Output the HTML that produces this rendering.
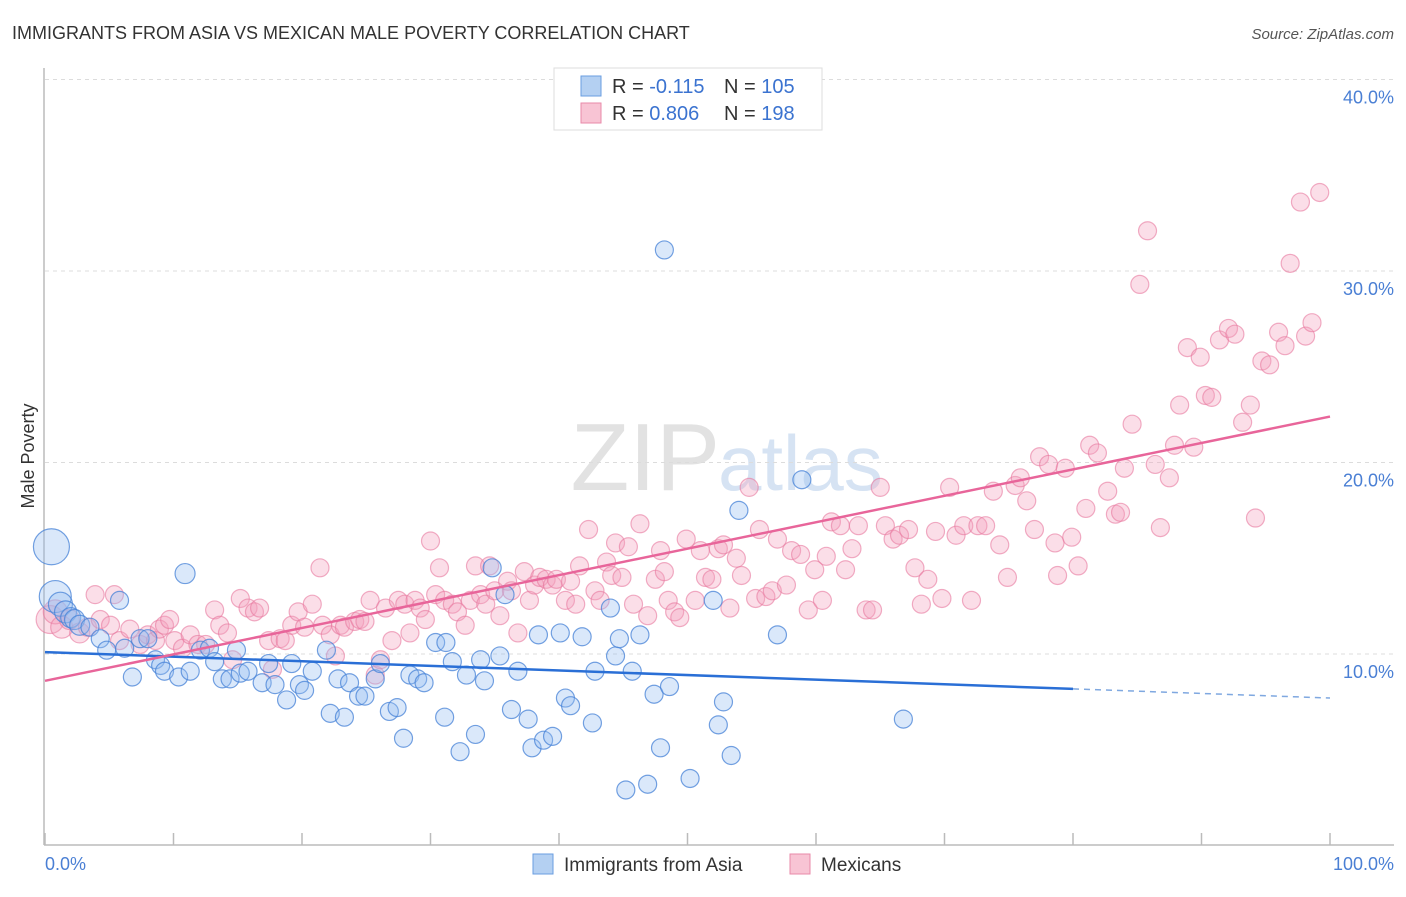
<!DOCTYPE html>
<html><head><meta charset="utf-8"><style>
body{margin:0;background:#fff;font-family:"Liberation Sans",sans-serif;}
svg text{font-family:"Liberation Sans",sans-serif;}
</style></head><body>
<svg id="chart" width="1406" height="892" viewBox="0 0 1406 892" xmlns="http://www.w3.org/2000/svg">
<text x="12" y="39" font-size="18" fill="#333">IMMIGRANTS FROM ASIA VS MEXICAN MALE POVERTY CORRELATION CHART</text>
<text x="1394" y="39" font-size="15" fill="#555" font-style="italic" text-anchor="end">Source: ZipAtlas.com</text>
<text x="720" y="490" font-size="96" fill="#e2e2e2" text-anchor="end" font-family="Liberation Serif">ZIP</text>
<text x="718" y="490" font-size="78" fill="#d6e3f3">atlas</text>
<g id="grid"></g>
<line x1="44" y1="68" x2="44" y2="845" stroke="#bbb" stroke-width="1.5"/>
<line x1="44" y1="845" x2="1394" y2="845" stroke="#bbb" stroke-width="1.5"/>
<g id="ticks"></g>
<g id="pink"></g>
<g id="blue"></g>
<g id="lines"></g>
<text transform="translate(34,456) rotate(-90)" font-size="18" fill="#333" text-anchor="middle">Male Poverty</text>
<text x="45" y="870" font-size="18" fill="#4a7fd4">0.0%</text>
<text x="1394" y="870" font-size="18" fill="#4a7fd4" text-anchor="end">100.0%</text>
<g>
<rect x="554" y="68" width="268" height="62" fill="#fff" stroke="#ddd"/>
<rect x="581" y="76" width="20" height="20" fill="#b4d0f2" stroke="#6a9ee0"/>
<rect x="581" y="103" width="20" height="20" fill="#f8c4d4" stroke="#e88aa9"/>
<text x="612" y="93" font-size="20" fill="#333">R = <tspan fill="#3b73d0">-0.115</tspan></text>
<text x="724" y="93" font-size="20" fill="#333">N = <tspan fill="#3b73d0">105</tspan></text>
<text x="612" y="120" font-size="20" fill="#333">R = <tspan fill="#3b73d0">0.806</tspan></text>
<text x="724" y="120" font-size="20" fill="#333">N = <tspan fill="#3b73d0">198</tspan></text>
</g>
<g>
<rect x="533" y="854" width="20" height="20" fill="#b4d0f2" stroke="#6a9ee0"/>
<text x="564" y="871" font-size="19" fill="#333">Immigrants from Asia</text>
<rect x="790" y="854" width="20" height="20" fill="#f8c4d4" stroke="#e88aa9"/>
<text x="821" y="871" font-size="19" fill="#333">Mexicans</text>
</g>
</svg>
<script>
const yTicks=[10,20,30,40];
const yTickLabels=["10.0%","20.0%","30.0%","40.0%"];
const xTicks=[0,10,20,30,40,50,60,70,80,90,100];
const blueX=[0.5,0.8,1.2,1.6,2.0,2.3,2.7,3.5,4.3,4.8,5.8,6.2,6.8,7.4,8.0,8.6,9.0,9.3,10.4,10.9,11.3,12.1,12.8,13.2,13.8,14.4,14.9,15.2,15.8,16.9,17.4,17.9,18.8,19.2,19.8,20.2,20.8,21.9,22.2,22.8,23.3,23.7,24.4,24.9,25.7,26.1,26.8,27.4,27.9,28.4,29.0,29.5,30.4,31.1,31.2,31.7,32.3,32.8,33.5,33.9,34.2,34.8,35.4,35.8,36.3,36.8,37.6,37.9,38.4,38.8,39.5,40.1,40.5,40.9,41.8,42.6,42.8,44.0,44.4,44.7,45.2,45.7,46.3,46.9,47.4,47.9,48.2,48.6,50.2,52.0,52.4,52.8,53.4,54.0,57.0,58.9,66.8];
const blueY=[15.6,13.0,12.6,12.2,11.9,11.8,11.5,11.4,10.8,10.2,12.8,10.3,8.8,10.8,10.8,9.7,9.4,9.1,8.8,14.2,9.1,10.2,10.3,9.6,8.7,8.7,10.2,9.0,9.1,8.5,9.5,8.4,7.6,9.5,8.4,8.1,9.1,10.2,6.9,8.7,6.7,8.5,7.8,7.8,8.7,9.5,7.0,7.2,5.6,8.9,8.7,8.5,10.6,6.7,10.6,9.6,4.9,8.9,5.8,9.7,8.6,14.5,9.9,13.1,7.1,9.1,6.6,5.1,11.0,5.5,5.7,11.1,7.7,7.3,10.9,6.4,9.1,12.4,9.9,10.8,2.9,9.1,11.0,3.2,7.9,5.1,31.1,8.3,3.5,12.8,6.3,7.5,4.7,17.5,11.0,19.1,6.6];
const blueSize=[18,16,12,11,10,10,10,9,9,9,9,9,9,9,9,9,9,9,9,10];
const pinkX=[0.4,0.8,1.3,1.9,2.7,3.3,3.9,4.3,5.1,5.4,5.8,6.6,7.4,8.0,8.6,8.9,9.3,9.7,10.1,10.7,11.3,11.9,12.5,13.2,13.6,14.2,14.6,15.2,15.8,16.3,16.7,17.4,17.7,18.3,18.7,19.2,19.7,20.2,20.8,21.4,21.6,22.2,22.6,23.0,23.3,24.1,24.5,24.9,25.3,25.7,26.1,26.5,27.0,27.5,28.0,28.4,28.8,29.2,29.6,30.0,30.4,30.7,31.1,31.7,32.1,32.7,33.1,33.5,33.9,34.3,34.6,35.0,35.4,36.0,36.3,36.8,37.3,37.7,38.1,38.5,39.0,39.5,39.8,40.5,40.9,41.3,41.6,42.3,42.8,43.2,43.7,44.1,44.4,44.9,45.4,45.8,46.3,46.9,47.5,47.9,48.2,48.5,49.0,49.4,49.9,50.6,51.0,51.4,51.9,52.4,52.8,53.3,53.8,54.2,54.8,55.3,55.6,56.1,56.6,57.0,57.7,58.1,58.8,59.4,59.9,60.5,60.8,61.2,61.9,62.3,62.8,63.3,63.9,64.4,65.0,65.4,66.0,66.5,67.2,67.7,68.2,68.7,69.3,69.8,70.4,70.9,71.5,72.1,72.6,73.2,73.8,74.3,74.9,75.5,75.9,76.4,77.0,77.4,78.1,78.6,78.8,79.4,79.9,80.4,81.0,81.3,81.9,82.7,83.3,83.7,84.0,84.6,85.2,85.8,86.4,86.8,87.5,87.9,88.3,88.9,89.4,89.9,90.3,90.8,91.4,92.1,92.6,93.2,93.8,94.2,94.7,95.3,96.0,96.5,96.9,97.7,98.1,98.6,99.2];
const pinkY=[11.8,12.2,11.4,11.8,11.1,11.4,13.1,11.8,11.5,13.1,10.7,11.3,10.5,11.0,10.7,11.3,11.5,11.8,10.7,10.3,11.0,10.5,10.5,12.3,11.5,11.1,9.7,12.9,12.4,12.2,12.4,10.7,9.2,10.8,10.7,11.5,12.2,11.4,12.6,14.5,11.5,11.0,9.9,11.5,11.4,11.7,11.8,11.7,12.8,8.9,9.7,12.4,10.7,12.8,12.6,11.1,12.8,12.4,11.8,15.9,13.1,14.5,12.8,12.6,12.2,11.5,12.8,14.6,13.1,12.6,14.6,13.3,12.0,13.8,13.3,11.1,14.3,12.8,13.6,14.0,13.9,13.6,13.9,12.8,13.8,12.6,14.6,16.5,13.3,12.8,14.8,14.1,15.8,14.0,15.6,12.6,16.8,12.0,13.9,15.4,14.3,12.8,12.2,11.9,16.0,12.8,15.4,14.0,13.9,15.5,15.7,12.4,15.0,14.1,18.7,12.9,16.5,13.0,13.3,16.0,13.6,15.4,15.2,12.3,14.4,12.8,15.1,16.9,16.7,14.4,15.5,16.7,12.3,12.3,18.7,16.7,16.0,16.2,16.5,14.5,12.6,13.9,16.4,12.9,18.7,16.2,16.7,12.8,16.7,16.7,18.5,15.7,14.0,18.8,19.2,18.0,16.5,20.3,19.9,15.8,14.1,19.7,16.1,14.6,17.6,20.9,20.5,18.5,17.3,17.4,19.7,22.0,29.3,32.1,19.9,16.6,19.2,20.9,23.0,26.0,20.8,25.5,23.5,23.4,26.4,27.0,26.7,22.1,23.0,17.1,25.3,25.1,26.8,26.1,30.4,33.6,26.6,27.3,34.1];
const pinkSize=[14,12,11,10,10];
const blueTrend=[10.1,7.7];
const pinkTrend=[8.6,22.4];
const NS="http://www.w3.org/2000/svg";
const X0=45,X1=1330,Y0=845.5,YPER=19.15;
function xs(v){return X0+(X1-X0)*v/100;}
function ys(v){return Y0-v*YPER;}
function mk(tag,attrs,parent){const e=document.createElementNS(NS,tag);for(const k in attrs)e.setAttribute(k,attrs[k]);parent.appendChild(e);return e;}
const grid=document.getElementById('grid');
yTicks.forEach((t,i)=>{
  const l=mk('line',{x1:45,x2:1394,y1:ys(t),y2:ys(t),stroke:'#dcdcdc','stroke-dasharray':'4,4'},grid);
  
  
  const tx=mk('text',{x:1394,y:ys(t)+24,'font-size':18,fill:'#4a7fd4','text-anchor':'end'},grid);
  tx.textContent=yTickLabels[i];
  
  
});
const tk=document.getElementById('ticks');
xTicks.forEach(t=>{
  const l=mk('line',{x1:xs(t),x2:xs(t),y1:833,y2:845,stroke:'#bbb','stroke-width':1.5},tk);
  
  
});
const pg=document.getElementById('pink');
pinkX.forEach((v,i)=>{
  const c=mk('circle',{cx:xs(v),cy:ys(pinkY[i]),r:pinkSize[i]||9,fill:'rgba(244,160,188,0.35)',stroke:'rgba(232,120,158,0.6)','stroke-width':1.2},pg);
  
  
});
const bg=document.getElementById('blue');
blueX.forEach((v,i)=>{
  const c=mk('circle',{cx:xs(v),cy:ys(blueY[i]),r:blueSize[i]||9,fill:'rgba(150,190,240,0.35)',stroke:'rgba(70,130,215,0.75)','stroke-width':1.2},bg);
  
  
});
const lg=document.getElementById('lines');
const bAt=p=>blueTrend[0]+(blueTrend[1]-blueTrend[0])*p/100;
let l1=mk('line',{x1:xs(0),y1:ys(bAt(0)),x2:xs(80),y2:ys(bAt(80)),stroke:'#2a6fd6','stroke-width':2.5},lg);


let l2=mk('line',{x1:xs(80),y1:ys(bAt(80)),x2:xs(100),y2:ys(bAt(100)),stroke:'#7fa8e0','stroke-width':1.5,'stroke-dasharray':'6,5'},lg);


let l3=mk('line',{x1:xs(0),y1:ys(pinkTrend[0]),x2:xs(100),y2:ys(pinkTrend[1]),stroke:'#e8659a','stroke-width':2.5},lg);


</script>
</body></html>
